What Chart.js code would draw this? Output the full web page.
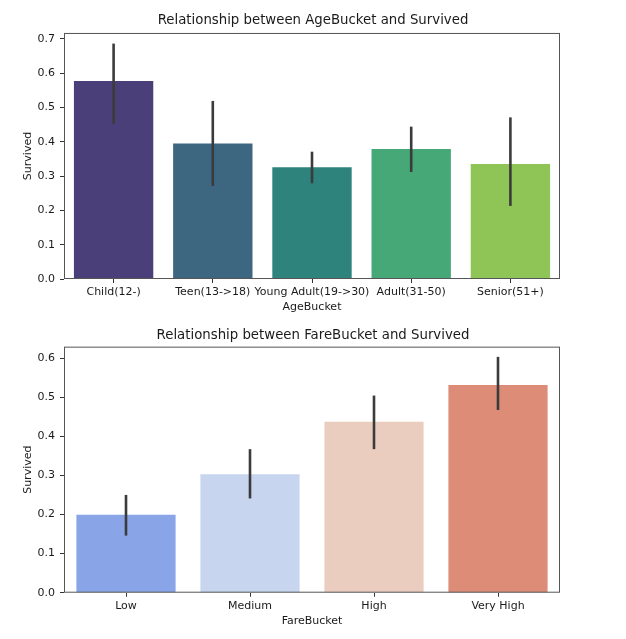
<!DOCTYPE html>
<html>
<head>
<meta charset="utf-8">
<script src="https://cdn.jsdelivr.net/npm/chart.js@4"></script>
<style>
  body { margin: 0; background: #fff; width: 626px; height: 639px; position: relative; overflow: hidden; }
  .box { position: absolute; left: 0; width: 626px; }
</style>
</head>
<body>
<div class="box" style="top:0;height:318px"><canvas id="ageChart"></canvas></div>
<div class="box" style="top:318px;height:321px"><canvas id="fareChart"></canvas></div>
<script>
// age buckets
const ageLabels = ['Child(12-)', 'Teen(13->18)', 'Young Adult(19->30)', 'Adult(31-50)', 'Senior(51+)'];
const ageSurvived = [0.577, 0.395, 0.326, 0.379, 0.335];
const ageErrLow = [0.453, 0.271, 0.279, 0.312, 0.213];
const ageErrHigh = [0.686, 0.519, 0.371, 0.444, 0.471];
const ageColors = ['#4a3f78', '#3d6681', '#2e837c', '#46a877', '#8ec556'];

// fare buckets
const fareLabels = ['Low', 'Medium', 'High', 'Very High'];
const fareSurvived = [0.199, 0.303, 0.437, 0.531];
const fareErrLow = [0.146, 0.241, 0.367, 0.467];
const fareErrHigh = [0.250, 0.367, 0.504, 0.603];
const fareColors = ['#89a5e8', '#c7d5ef', '#eacdbf', '#dc8c77'];

const yTicks = [0, 0.1, 0.2, 0.3, 0.4, 0.5, 0.6, 0.7];

Chart.defaults.font.family = "'DejaVu Sans', sans-serif";
Chart.defaults.color = '#1a1a1a';

// draws seaborn style error bars + the box around the axes
const errorBars = {
  id: 'errorBars',
  afterDatasetsDraw(chart, args, opts) {
    const ctx = chart.ctx;
    const y = chart.scales.y;
    const bars = chart.getDatasetMeta(0).data;
    ctx.save();
    ctx.strokeStyle = '#3b3b3b';
    ctx.lineWidth = 2.6;
    bars.forEach((bar, i) => {
      ctx.beginPath();
      ctx.moveTo(bar.x, y.getPixelForValue(opts.low[i]));
      ctx.lineTo(bar.x, y.getPixelForValue(opts.high[i]));
      ctx.stroke();
    });
    const a = chart.chartArea;
    ctx.strokeStyle = '#555';
    ctx.lineWidth = 1;
    ctx.strokeRect(a.left + 0.5, a.top + 0.5, a.right - a.left - 1, a.bottom - a.top - 1);
    ctx.restore();
  },
};

function drawBarChart(id, labels, values, colors, low, high, title, xTitle, yMax, titlePad, bottomPad) {
  const tickFont = { size: 11 };
  const chartConfig = {
    type: 'bar',
    data: {
      labels: labels,
      datasets: [
        {
          data: values,
          backgroundColor: colors,
          borderWidth: 0,
          categoryPercentage: 1,
          barPercentage: 0.8,
        },
      ],
    },
    options: {
      responsive: true,
      maintainAspectRatio: false,
      animation: false,
      layout: { padding: { left: 0, right: 0, top: 0, bottom: bottomPad } },
      plugins: {
        legend: { display: false },
        tooltip: { enabled: false },
        title: {
          display: true,
          text: title,
          font: { size: 13.3, weight: 'normal' },
          padding: titlePad,
        },
        errorBars: { low: low, high: high },
      },
      scales: {
        x: {
          type: 'category',
          border: { display: false },
          grid: { display: true, drawOnChartArea: false, offset: false, tickLength: 4, color: '#333' },
          ticks: { font: tickFont, padding: 3, maxRotation: 0, autoSkip: false },
          title: { display: true, text: xTitle, font: tickFont, padding: { top: 0, bottom: 3.9 } },
          afterFit(s) { s.height = 39; },
        },
        y: {
          min: 0,
          max: yMax,
          border: { display: false },
          grid: { display: true, drawOnChartArea: false, tickLength: 4, color: '#333' },
          ticks: { font: tickFont, padding: 5, includeBounds: false, callback: (v) => v.toFixed(1) },
          afterBuildTicks(s) { s.ticks = yTicks.filter((t) => t <= yMax).map((t) => ({ value: t })); },
          title: { display: true, text: 'Survived', font: tickFont, padding: { top: 21.4, bottom: 0 } },
          afterFit(s) { s.width = 64; },
        },
        yRight: {
          position: 'right',
          display: true,
          ticks: { display: false },
          grid: { display: false },
          border: { display: false },
          afterFit(s) { s.width = 66; },
        },
      },
    },
    plugins: [errorBars],
  };
  const ctx = document.getElementById(id).getContext('2d');
  return new Chart(ctx, chartConfig);
}

drawBarChart('ageChart', ageLabels, ageSurvived, ageColors, ageErrLow, ageErrHigh,
  'Relationship between AgeBucket and Survived', 'AgeBucket', 0.717, { top: 13, bottom: 4 }, 0);
drawBarChart('fareChart', fareLabels, fareSurvived, fareColors, fareErrLow, fareErrHigh,
  'Relationship between FareBucket and Survived', 'FareBucket', 0.629, { top: 9.7, bottom: 3 }, 7.3);
</script>
</body>
</html>
